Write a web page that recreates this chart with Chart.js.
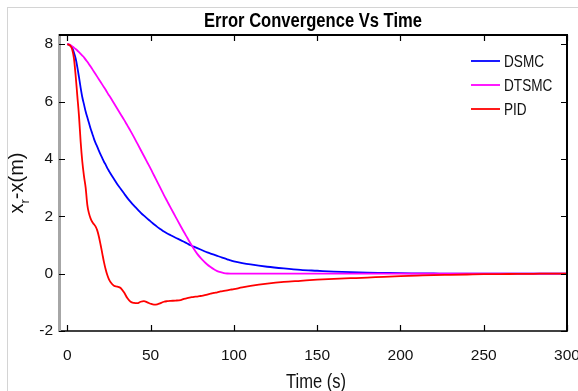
<!DOCTYPE html>
<html>
<head>
<meta charset="utf-8">
<script src="https://cdn.jsdelivr.net/npm/chart.js@4.4.1/dist/chart.umd.min.js"></script>
<style>
  html, body { margin: 0; padding: 0; background: #fff; }
  #wrap { position: relative; width: 578px; height: 391px; overflow: hidden; }
  #frame { position: absolute; left: 7px; top: 7px; width: 700px; height: 500px;
           border-left: 1px solid #d4d4d4; border-top: 1px solid #d4d4d4; pointer-events: none; }
</style>
</head>
<body>
<div id="wrap">
  <canvas id="errChart" width="578" height="391"></canvas>
  <div id="frame"></div>
</div>
<script>
const timeS = [0,1,2,3,4,5,6,7,8,9,10,11,12,13,14,15,16,17,18,19,20,21,22,23,24,25,26,
  28,30,32,34,36,38,40,42,44,46,48,50,52,54,56,58,60,62,65,68,
  70,72,74,76,78,80,82,84,86,88,90,92,94,96,98,100,105,110,
  120,130,140,150,160,170,180,190,200,210,220,230,240,250,260,270,280,290,300];

const dsmc = [8.0,7.98,7.94,7.87,7.7,7.5,7.2,6.85,6.48,6.15,5.9,5.65,5.45,5.25,5.05,4.88,4.7,4.55,4.42,4.28,4.15,4.03,3.9,3.8,3.68,3.58,3.48,
  3.3,3.12,2.96,2.8,2.64,2.5,2.37,2.25,2.13,2.02,1.92,1.82,1.72,1.63,1.55,1.47,1.4,1.34,1.25,1.17,
  1.11,1.05,0.99,0.94,0.89,0.84,0.79,0.74,0.70,0.66,0.62,0.58,0.54,0.50,0.46,0.43,0.37,0.32,
  0.24,0.18,0.13,0.1,0.07,0.05,0.035,0.025,0.015,0.01,0.005,0,0,0,0,0,0,0,0];

const dtsmc = [8.0,7.99,7.96,7.92,7.88,7.83,7.78,7.72,7.66,7.6,7.54,7.46,7.39,7.3,7.22,7.13,7.04,6.95,6.86,6.77,6.68,6.59,6.5,6.41,6.31,6.22,6.13,
  5.94,5.75,5.56,5.37,5.17,4.97,4.76,4.54,4.32,4.1,3.88,3.66,3.43,3.2,2.97,2.74,2.52,2.3,1.98,1.66,
  1.45,1.25,1.05,0.86,0.69,0.55,0.43,0.32,0.23,0.15,0.09,0.05,0.02,0.005,0,0,0,0,
  0,0,0,0,0,0,0,0,0,0,0,0,0,0,0,0,0,0,0];

const pid = [8.0,7.98,7.93,7.8,7.5,6.9,6.2,5.5,4.6,3.9,3.4,3.0,2.4,2.1,1.92,1.8,1.72,1.64,1.5,1.28,1.0,0.7,0.4,0.15,-0.05,-0.2,-0.3,
  -0.42,-0.45,-0.5,-0.65,-0.85,-0.98,-1.02,-1.03,-0.98,-0.96,-1.0,-1.05,-1.08,-1.07,-1.03,-0.98,-0.96,-0.95,-0.94,-0.92,
  -0.88,-0.85,-0.83,-0.81,-0.80,-0.78,-0.76,-0.73,-0.70,-0.67,-0.65,-0.62,-0.60,-0.58,-0.56,-0.54,-0.48,-0.43,
  -0.35,-0.29,-0.25,-0.21,-0.18,-0.16,-0.14,-0.11,-0.09,-0.07,-0.05,-0.04,-0.03,-0.02,-0.015,-0.01,-0.005,0,0];

const seriesNames = ['DSMC', 'DTSMC', 'PID'];
const seriesColors = ['#0000ff', '#ff00ff', '#ff0000'];
const xTicks = [0, 50, 100, 150, 200, 250, 300];
const yTicks = [-2, 0, 2, 4, 6, 8];

const FONT = "'Liberation Sans', Arial, sans-serif";

function toPoints(vals) {
  return vals.map((v, i) => ({ x: timeS[i], y: v }));
}

// squeeze text sideways, the matlab font is narrower than liberation
function narrowText(c, txt, x, y, sx) {
  c.save();
  c.translate(x, y);
  c.scale(sx, 1);
  c.fillText(txt, 0, 0);
  c.restore();
}

// extra bits matlab draws: box, inward ticks, legend, titles
const matlabBits = {
  id: 'matlabBits',
  afterDraw(chart) {
    const c = chart.ctx;
    const a = chart.chartArea;
    const xs = chart.scales.x, ys = chart.scales.y;
    c.save();

    // top + right box lines
    c.strokeStyle = '#000';
    c.lineWidth = 2;
    c.beginPath();
    c.moveTo(a.left, a.top); c.lineTo(a.right, a.top); c.lineTo(a.right, a.bottom);
    c.stroke();

    // inward tick marks
    c.lineWidth = 1.2;
    c.beginPath();
    xTicks.forEach(t => {
      const px = Math.round(xs.getPixelForValue(t)) + 0.5;
      c.moveTo(px, a.bottom); c.lineTo(px, a.bottom - 6);
      c.moveTo(px, a.top); c.lineTo(px, a.top + 6);
    });
    yTicks.forEach(t => {
      const py = Math.round(ys.getPixelForValue(t)) + 0.5;
      c.moveTo(a.left, py); c.lineTo(a.left + 6, py);
      c.moveTo(a.right, py); c.lineTo(a.right - 6, py);
    });
    c.stroke();

    // legend
    c.font = '17px ' + FONT;
    c.textBaseline = 'middle';
    c.textAlign = 'left';
    chart.data.datasets.forEach((ds, i) => {
      const y = 61 + i * 24;
      c.strokeStyle = ds.borderColor;
      c.lineWidth = 1.8;
      c.beginPath(); c.moveTo(471, y); c.lineTo(500, y); c.stroke();
      c.fillStyle = '#111';
      narrowText(c, ds.label, 504, y + 1, 0.8);
    });

    // title
    c.font = 'bold 19.5px ' + FONT;
    c.textAlign = 'center';
    c.textBaseline = 'alphabetic';
    c.fillStyle = '#000';
    narrowText(c, 'Error Convergence Vs Time', 313, 26.5, 218 / c.measureText('Error Convergence Vs Time').width);

    // x axis title
    c.font = '20px ' + FONT;
    c.fillStyle = '#111';
    narrowText(c, 'Time (s)', 316, 388, 60 / c.measureText('Time (s)').width);

    // y axis title: x_r-x(m)
    c.translate(23, (a.top + a.bottom) / 2);
    c.rotate(-Math.PI / 2);
    const big = '20px ' + FONT, small = '13px ' + FONT;
    c.font = big; const w1 = c.measureText('x').width;
    c.font = small; const w2 = c.measureText('r').width;
    c.font = big; const w3 = c.measureText('-x(m)').width;
    const x0 = -(w1 + w2 + w3) / 2;
    c.textAlign = 'left';
    c.font = big; c.fillText('x', x0, 0);
    c.font = small; c.fillText('r', x0 + w1, 6);
    c.font = big; c.fillText('-x(m)', x0 + w1 + w2, 0);
    c.restore();
  }
};

new Chart(document.getElementById('errChart').getContext('2d'), {
  type: 'line',
  data: {
    datasets: [
      { label: seriesNames[0], data: toPoints(dsmc), borderColor: seriesColors[0], order: 2 },
      { label: seriesNames[1], data: toPoints(dtsmc), borderColor: seriesColors[1], order: 1 },
      { label: seriesNames[2], data: toPoints(pid), borderColor: seriesColors[2], order: 0 }
    ]
  },
  options: {
    responsive: false,
    animation: false,
    layout: { padding: { top: 35, right: 11, left: 0, bottom: 0 } },
    elements: {
      point: { radius: 0 },
      line: { borderWidth: 1.8, cubicInterpolationMode: 'monotone', fill: false }
    },
    plugins: {
      legend: { display: false },
      tooltip: { enabled: false }
    },
    scales: {
      x: {
        type: 'linear',
        min: -5,
        max: 300,
        afterFit(scale) { scale.height = 60; scale.paddingLeft = 0; scale.paddingRight = 0; },
        afterBuildTicks(scale) { scale.ticks = xTicks.map(v => ({ value: v })); },
        grid: { display: false, drawTicks: false },
        border: { color: '#404040', width: 2 },
        ticks: { font: { family: FONT, size: 15.5 }, color: '#111', padding: 15, maxRotation: 0 }
      },
      y: {
        type: 'linear',
        min: -2,
        max: 8.32,
        afterFit(scale) { scale.width = 59; scale.paddingTop = 0; scale.paddingBottom = 0; },
        afterBuildTicks(scale) { scale.ticks = yTicks.map(v => ({ value: v })); },
        grid: { display: false, drawTicks: false },
        border: { color: '#a6a6a6', width: 3 },
        ticks: { font: { family: FONT, size: 15.5 }, color: '#111', padding: 6 }
      }
    }
  },
  plugins: [matlabBits]
});
</script>
</body>
</html>
